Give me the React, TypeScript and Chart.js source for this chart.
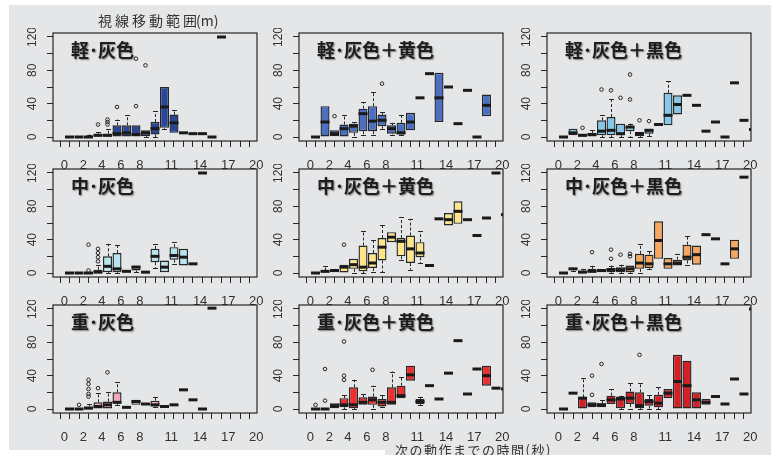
import React, { useEffect, useRef } from "react";
import { Chart, registerables } from "chart.js";

Chart.register(...registerables);

type Box = number | [number, number, number, number, number] | null; // [lo, q1, median, q3, hi]
type Outlier = [number, number]; // [category, value]

// ---------- data ----------
const categories = [0, 1, 2, 3, 4, 5, 6, 7, 8, 9, 10, 11, 12, 13, 14, 15, 16, 17, 18, 19, 20];
const xLabelText = ["0", "2", "4", "6", "8", "11", "14", "17", "20"];
const yTickValues = [0, 20, 40, 60, 80, 100, 120];
const yLabelValues = [0, 40, 80, 120];

const panelTitles = [
  "軽･灰色", "軽･灰色＋黄色", "軽･灰色＋黒色",
  "中･灰色", "中･灰色＋黄色", "中･灰色＋黒色",
  "重･灰色", "重･灰色＋黄色", "重･灰色＋黒色",
];
const topTitle = "視線移動範囲";
const topTitleUnit = "(m)";
const bottomTitle = "次の動作までの時間(秒)";

const keiGray: Box[] = [0, 0, [0, 0, 0, 1, 3], [0, 0, 2, 4, 6], [0, 0, 2, 4, 10], [0, 0, 4, 14, 21], [0, 0, 5, 14, 26], [0, 0, 3, 14, 14], [0, 1, 5, 8, 8], [0, 3, 10, 18, 31], [10, 11, 36, 60, 60], [5, 5, 17, 27, 32], 5, 4, 4, 0, 120, null, null, null, null];
const keiGrayOut: Outlier[] = [[3, 15], [4, 15], [4, 18], [4, 21], [5, 36], [7, 37], [7, 94], [8, 86]];

const keiYellow: Box[] = [0, [0, 0, 18, 37, 37], [1, 1, 4, 8, 8], [0, 0, 10, 15, 27], [0, 5, 13, 16, 18], [2, 7, 28, 34, 42], [2, 7, 19, 37, 54], [10, 13, 20, 27, 30], [3, 4, 10, 14, 17], [2, 3, 5, 17, 27], [8, 8, 18, 29, 29], 47, 76, [18, 18, 47, 77, 77], 60, 16, 56, 0, [25, 25, 38, 51, 51], null, null];
const keiYellowOut: Outlier[] = [[2, 25], [7, 64]];

const keiBlack: Box[] = [0, [2, 2, 5, 10, 10], [0, 0, 2, 4, 4], [0, 0, 3, 5, 8], [0, 2, 7, 20, 26], [0, 2, 8, 24, 46], [0, 2, 4, 16, 16], [0, 7, 12, 13, 16], [0, 1, 4, 6, 6], [1, 4, 8, 10, 10], 15, [14, 14, 26, 53, 67], [27, 27, 39, 50, 50], 50, 38, 7, 18, 0, 65, 20, 9];
const keiBlackOut: Outlier[] = [[2, 11], [4, 57], [5, 56], [6, 47], [7, 45], [7, 75], [8, 20], [9, 19]];

const chuGray: Box[] = [0, 0, [0, 0, 0, 1, 1], [0, 0, 1, 4, 10], [0, 1, 8, 20, 35], [0, 1, 5, 24, 34], 2, [1, 3, 7, 9, 9], 1, [6, 13, 20, 29, 35], [1, 1, 7, 15, 15], [11, 16, 21, 31, 37], [9, 9, 19, 29, 29], 11, 120, null, null, null, null, null, null];
const chuGrayOut: Outlier[] = [[2, 3], [2, 34], [3, 14], [3, 19], [3, 24], [3, 29]];

const chuYellow: Box[] = [0, [0, 0, 2, 3, 9], [1, 1, 3, 4, 5], [0, 0, 7, 10, 10], [0, 5, 10, 17, 17], [0, 2, 7, 33, 50], [1, 6, 12, 24, 40], [1, 15, 31, 42, 58], [37, 37, 43, 49, 49], [16, 20, 38, 42, 67], [4, 12, 29, 45, 65], [12, 19, 24, 37, 50], 9, 65, [57, 57, 64, 72, 72], [59, 59, 74, 86, 86], 64, 45, 66, 120, 70];
const chuYellowOut: Outlier[] = [[3, 34]];

const chuBlack: Box[] = [0, [3, 4, 5, 6, 6], [0, 0, 1, 3, 5], [0, 0, 2, 5, 9], [1, 1, 3, 4, 4], [0, 1, 4, 6, 9], [0, 1, 4, 7, 10], [0, 1, 5, 9, 9], [0, 5, 12, 23, 35], [5, 6, 11, 22, 26], [17, 17, 39, 62, 62], [5, 5, 11, 18, 18], [9, 9, 12, 16, 23], [10, 15, 19, 34, 45], [10, 10, 22, 33, 33], 46, 41, 11, [17, 17, 29, 40, 40], 115, null];
const chuBlackOut: Outlier[] = [[3, 25], [5, 17], [5, 28], [6, 22], [7, 20], [7, 23]];

const juGray: Box[] = [0, 0, [0, 0, 1, 3, 6], [0, 0, 3, 8, 19], [0, 0, 5, 9, 20], [5, 7, 8, 20, 32], 2, [5, 5, 9, 11, 11], [5, 5, 6, 7, 7], [2, 3, 5, 10, 15], 3, 5, 23, 11, 0, 121, null, null, null, null, null];
const juGrayOut: Outlier[] = [[1, 5], [2, 15], [2, 18], [2, 24], [2, 30], [2, 35], [3, 25], [4, 44]];

const juYellow: Box[] = [0, 0, [1, 1, 4, 7, 7], [0, 2, 5, 13, 17], [0, 1, 5, 26, 35], [5, 5, 8, 14, 18], [0, 5, 11, 15, 28], [2, 3, 8, 12, 17], [5, 5, 8, 26, 45], [13, 13, 16, 28, 38], [34, 34, 41, 52, 52], [5, 6, 9, 12, 14], 28, 12, 43, 82, 18, 48, [28, 28, 40, 52, 52], 25, 24];
const juYellowOut: Outlier[] = [[0, 5], [1, 10], [1, 48], [3, 35], [3, 40], [3, 81], [6, 47]];

const juBlack: Box[] = [0, 19, [0, 0, 13, 14, 37], [2, 2, 5, 8, 8], [2, 2, 5, 7, 11], [6, 6, 11, 16, 24], [0, 1, 12, 15, 16], [0, 6, 13, 21, 31], [0, 1, 4, 20, 31], [0, 4, 9, 12, 17], [0, 2, 7, 17, 26], [13, 13, 19, 24, 24], [0, 0, 33, 65, 65], [0, 0, 28, 58, 58], [0, 0, 11, 20, 20], [5, 5, 8, 12, 12], 15, 6, 36, 18, 120];
const juBlackOut: Outlier[] = [[3, 17], [3, 40], [4, 54], [8, 65]];

const panelBoxes = [keiGray, keiYellow, keiBlack, chuGray, chuYellow, chuBlack, juGray, juYellow, juBlack];
const panelOutliers = [keiGrayOut, keiYellowOut, keiBlackOut, chuGrayOut, chuYellowOut, chuBlackOut, juGrayOut, juYellowOut, juBlackOut];

// ---------- styles / layout ----------
const panelColors = ["#28479a", "#4a6fc3", "#86c8ea", "#b8e4ef", "#fde68a", "#f7a65e", "#f2a8ba", "#ee2e2e", "#d32027"];
const bg = "#e5e6e8";
const ink = "#262626";
const xMin = -0.74, xMax = 20.74, yMin = -4.8, yMax = 124.8;
const xLabelAnchors = [0.45, 2.45, 4.4, 6.4, 8.4, 11.7, 14.75, 17.7, 20.65];
const colLeft = [53, 299, 547];
const rowTop = [33, 169, 305];
const plotW = 204, plotH = 108;
const padL = 50, padT = 5, padR = 10, padB = 35;
const yAxisW = 45, xAxisH = 30;
const canvasW = padL + plotW + padR;
const canvasH = padT + plotH + padB;
const tickFont = '"Liberation Sans", Arial, sans-serif';
const cjkFont = '"Noto Sans CJK JP", "Noto Sans CJK SC", sans-serif';

function toBox(b: Box): number[] | null {
  if (b === null || b === undefined) return null;
  if (typeof b === "number") return [b, b, b, b, b];
  return b;
}

const rBoxPlugin = {
  id: "rBox",
  beforeDatasetsDraw(chart: any, _a: any, opts: any) {
    const { ctx, chartArea: a, scales } = chart;
    const x = scales.x, y = scales.y;
    ctx.save();
    ctx.beginPath();
    ctx.rect(a.left, a.top, a.right - a.left, a.bottom - a.top);
    ctx.clip();
    ctx.strokeStyle = ink;
    ctx.lineWidth = 1;
    (opts.boxes as Box[]).forEach((raw, i) => {
      const b = toBox(raw);
      if (!b) return;
      const [lo, q1, , q3, hi] = b;
      const px = Math.round(x.getPixelForValue(categories[i] + 1)) + 0.5;
      const seg = (from: number, to: number) => {
        ctx.setLineDash([3, 2]);
        ctx.beginPath();
        ctx.moveTo(px, y.getPixelForValue(from));
        ctx.lineTo(px, y.getPixelForValue(to));
        ctx.stroke();
        ctx.setLineDash([]);
        const yy = Math.round(y.getPixelForValue(to)) + 0.5;
        ctx.beginPath();
        ctx.moveTo(px - 2.5, yy);
        ctx.lineTo(px + 2.5, yy);
        ctx.stroke();
      };
      if (hi > q3) seg(q3, hi);
      if (lo < q1) seg(q1, lo);
    });
    ctx.restore();
  },
  afterDatasetsDraw(chart: any, _a: any, opts: any) {
    const { ctx, chartArea: a, scales } = chart;
    const x = scales.x, y = scales.y;
    ctx.save();
    ctx.beginPath();
    ctx.rect(a.left, a.top, a.right - a.left, a.bottom - a.top);
    ctx.clip();
    ctx.strokeStyle = "#1a1a1a";
    ctx.lineWidth = 3;
    (opts.boxes as Box[]).forEach((raw, i) => {
      const b = toBox(raw);
      if (!b) return;
      const px = x.getPixelForValue(categories[i] + 1);
      const py = y.getPixelForValue(b[2]);
      ctx.beginPath();
      ctx.moveTo(px - 4.5, py);
      ctx.lineTo(px + 4.5, py);
      ctx.stroke();
    });
    ctx.restore();
  },
  afterDraw(chart: any) {
    const { ctx, chartArea: a, scales } = chart;
    const x = scales.x, y = scales.y;
    ctx.save();
    ctx.strokeStyle = ink;
    ctx.lineWidth = 1.2;
    ctx.strokeRect(a.left, a.top, a.right - a.left, a.bottom - a.top);
    ctx.fillStyle = "#333";
    ctx.textAlign = "center";
    ctx.textBaseline = "middle";
    ctx.font = `13px ${tickFont}`;
    xLabelText.forEach((t, i) => {
      ctx.fillText(t, x.getPixelForValue(xLabelAnchors[i]), a.bottom + 24);
    });
    ctx.font = `12px ${tickFont}`;
    yLabelValues.forEach((v) => {
      ctx.save();
      ctx.translate(a.left - 20, y.getPixelForValue(v));
      ctx.rotate(-Math.PI / 2);
      ctx.fillText(String(v), 0, 0);
      ctx.restore();
    });
    ctx.restore();
  },
};

function makeChart(canvas: HTMLCanvasElement, p: number) {
  const boxes = panelBoxes[p];
  const bars: any[] = [];
  boxes.forEach((raw, i) => {
    const b = toBox(raw);
    if (b && b[3] > b[1]) bars.push({ x: categories[i] + 1, y: [b[1], b[3]] });
  });
  const pts = panelOutliers[p].map(([c, v]) => ({ x: c + 1, y: v }));
  const axisGrid = { display: true, offset: false, drawOnChartArea: false, drawTicks: true, tickLength: 6, color: ink, lineWidth: 1 };
  return new Chart(canvas, {
    type: "bar",
    data: {
      datasets: [
        {
          type: "bar",
          data: bars,
          backgroundColor: panelColors[p],
          borderColor: ink,
          borderWidth: 1.4,
          borderSkipped: false,
          barThickness: 9,
          inflateAmount: 0,
          grouped: false,
        } as any,
        {
          type: "scatter",
          data: pts,
          pointRadius: 1.8,
          pointBorderWidth: 1,
          borderColor: ink,
          backgroundColor: "rgba(0,0,0,0)",
          pointHoverRadius: 0,
        } as any,
      ],
    },
    options: {
      responsive: false,
      animation: false,
      devicePixelRatio: 1,
      events: [],
      layout: { padding: { left: padL - yAxisW, top: padT, right: padR, bottom: padB - xAxisH } },
      plugins: {
        legend: { display: false },
        tooltip: { enabled: false },
        rBox: { boxes },
      } as any,
      scales: {
        x: {
          type: "linear",
          min: xMin,
          max: xMax,
          offset: false,
          afterBuildTicks: (s: any) => { s.ticks = categories.map((v) => ({ value: v })); },
          afterFit: (s: any) => { s.height = xAxisH; },
          ticks: { display: false },
          grid: axisGrid,
          border: { display: false },
        },
        y: {
          type: "linear",
          min: yMin,
          max: yMax,
          afterBuildTicks: (s: any) => { s.ticks = yTickValues.map((v) => ({ value: v })); },
          afterFit: (s: any) => { s.width = yAxisW; },
          ticks: { display: false },
          grid: axisGrid,
          border: { display: false },
        },
      } as any,
    },
    plugins: [rBoxPlugin as any],
  });
}

export default function App() {
  const refs = useRef<(HTMLCanvasElement | null)[]>([]);
  useEffect(() => {
    const charts = refs.current.map((c, p) => (c ? makeChart(c, p) : null));
    return () => charts.forEach((ch) => ch && ch.destroy());
  }, []);

  return (
    <div style={{ position: "absolute", left: 0, top: 0, width: 771, height: 455, background: "#fff", overflow: "hidden" }}>
      <div style={{ position: "absolute", left: 9, top: 5, width: 762, height: 445, background: bg }} />
      <div style={{ position: "absolute", left: 385, top: 450, width: 386, height: 5, background: bg }} />
      {panelTitles.map((_, p) => {
        const L = colLeft[p % 3], T = rowTop[Math.floor(p / 3)];
        return (
          <canvas
            key={"c" + p}
            ref={(el) => { refs.current[p] = el; }}
            width={canvasW}
            height={canvasH}
            style={{ position: "absolute", left: L - padL, top: T - padT, width: canvasW, height: canvasH }}
          />
        );
      })}
      {panelTitles.map((t, p) => {
        const L = colLeft[p % 3], T = rowTop[Math.floor(p / 3)];
        return (
          <div
            key={"t" + p}
            style={{
              position: "absolute", left: L + 18, top: T + 4, lineHeight: "24px", fontSize: 18, fontWeight: 700,
              fontFamily: cjkFont, color: "#1e1e1e", whiteSpace: "nowrap", textShadow: "1px 1px 1.5px rgba(0,0,0,0.45)",
            }}
          >
            {t}
          </div>
        );
      })}
      <div style={{ position: "absolute", left: 98, top: 11, lineHeight: "18px", fontSize: 14, fontFamily: cjkFont, color: "#333", whiteSpace: "nowrap" }}>
        <span style={{ letterSpacing: 3 }}>{topTitle}</span>
        <span style={{ marginLeft: -4 }}>{topTitleUnit}</span>
      </div>
      <div style={{ position: "absolute", left: 395, top: 442, lineHeight: "16px", fontSize: 13, letterSpacing: 1.5, fontFamily: cjkFont, color: "#333", whiteSpace: "nowrap" }}>
        {bottomTitle}
      </div>
    </div>
  );
}
